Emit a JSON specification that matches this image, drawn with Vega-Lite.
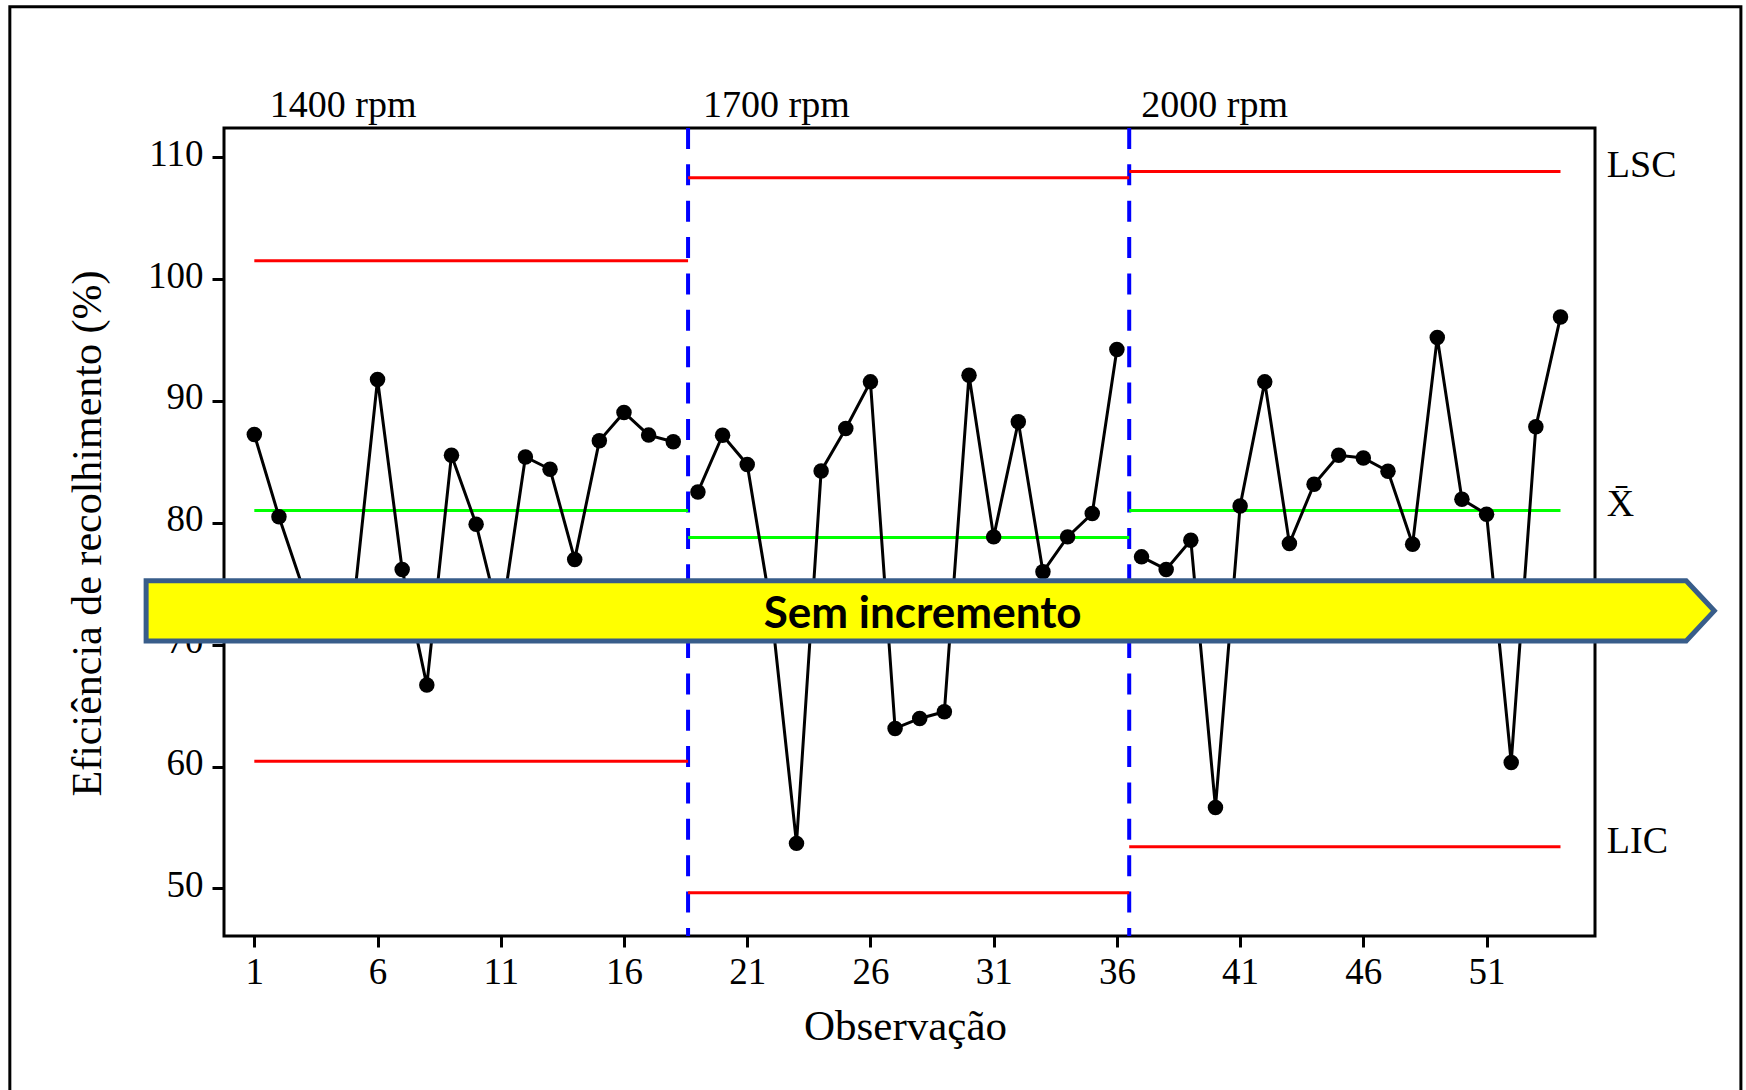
{
  "$schema": "https://vega.github.io/schema/vega-lite/v6.json",
  "width": 1371,
  "height": 808,
  "autosize": {"type": "none"},
  "padding": {"left": 224, "top": 128, "right": 151, "bottom": 154},
  "background": "white",
  "config": {
    "view": {"stroke": "black", "strokeWidth": 3},
    "font": "Liberation Serif",
    "axis": {
      "domain": false, "grid": false, "ticks": true,
      "tickColor": "black", "tickWidth": 3, "tickSize": 11,
      "labelFont": "Liberation Serif", "labelFontSize": 37, "labelColor": "black",
      "titleFont": "Liberation Serif", "titleFontSize": 42, "titleFontWeight": "normal", "titleColor": "black"
    },
    "axisX": {"labelBaseline": "alphabetic", "labelPadding": 36, "titleX": 681, "titleY": 103, "titleBaseline": "alphabetic", "titleAlign": "center", "titleFontSize": 43},
    "axisY": {"tickSize": 12, "labelPadding": 9, "labelBaseline": "alphabetic", "labelOffset": 8, "titleX": -124, "titleY": 405, "titleAngle": 270, "titleBaseline": "alphabetic", "titleAlign": "center"}
  },
  "datasets": {
    "obs": [
      {"obs": 1, "value": 87.25, "stage": "1400 rpm"},
      {"obs": 2, "value": 80.5, "stage": "1400 rpm"},
      {"obs": 3, "value": 74.5, "stage": "1400 rpm"},
      {"obs": 4, "value": 72.5, "stage": "1400 rpm"},
      {"obs": 5, "value": 72.7, "stage": "1400 rpm"},
      {"obs": 6, "value": 91.76, "stage": "1400 rpm"},
      {"obs": 7, "value": 76.18, "stage": "1400 rpm"},
      {"obs": 8, "value": 66.69, "stage": "1400 rpm"},
      {"obs": 9, "value": 85.55, "stage": "1400 rpm"},
      {"obs": 10, "value": 79.89, "stage": "1400 rpm"},
      {"obs": 11, "value": 71.7, "stage": "1400 rpm"},
      {"obs": 12, "value": 85.41, "stage": "1400 rpm"},
      {"obs": 13, "value": 84.4, "stage": "1400 rpm"},
      {"obs": 14, "value": 77.0, "stage": "1400 rpm"},
      {"obs": 15, "value": 86.73, "stage": "1400 rpm"},
      {"obs": 16, "value": 89.06, "stage": "1400 rpm"},
      {"obs": 17, "value": 87.2, "stage": "1400 rpm"},
      {"obs": 18, "value": 86.65, "stage": "1400 rpm"},
      {"obs": 19, "value": 82.54, "stage": "1700 rpm"},
      {"obs": 20, "value": 87.19, "stage": "1700 rpm"},
      {"obs": 21, "value": 84.79, "stage": "1700 rpm"},
      {"obs": 22, "value": 72.5, "stage": "1700 rpm"},
      {"obs": 23, "value": 53.7, "stage": "1700 rpm"},
      {"obs": 24, "value": 84.25, "stage": "1700 rpm"},
      {"obs": 25, "value": 87.74, "stage": "1700 rpm"},
      {"obs": 26, "value": 91.57, "stage": "1700 rpm"},
      {"obs": 27, "value": 63.13, "stage": "1700 rpm"},
      {"obs": 28, "value": 63.95, "stage": "1700 rpm"},
      {"obs": 29, "value": 64.5, "stage": "1700 rpm"},
      {"obs": 30, "value": 92.12, "stage": "1700 rpm"},
      {"obs": 31, "value": 78.85, "stage": "1700 rpm"},
      {"obs": 32, "value": 88.29, "stage": "1700 rpm"},
      {"obs": 33, "value": 75.98, "stage": "1700 rpm"},
      {"obs": 34, "value": 78.85, "stage": "1700 rpm"},
      {"obs": 35, "value": 80.77, "stage": "1700 rpm"},
      {"obs": 36, "value": 94.22, "stage": "1700 rpm"},
      {"obs": 37, "value": 77.21, "stage": "2000 rpm"},
      {"obs": 38, "value": 76.18, "stage": "2000 rpm"},
      {"obs": 39, "value": 78.58, "stage": "2000 rpm"},
      {"obs": 40, "value": 56.65, "stage": "2000 rpm"},
      {"obs": 41, "value": 81.39, "stage": "2000 rpm"},
      {"obs": 42, "value": 91.57, "stage": "2000 rpm"},
      {"obs": 43, "value": 78.31, "stage": "2000 rpm"},
      {"obs": 44, "value": 83.17, "stage": "2000 rpm"},
      {"obs": 45, "value": 85.55, "stage": "2000 rpm"},
      {"obs": 46, "value": 85.33, "stage": "2000 rpm"},
      {"obs": 47, "value": 84.24, "stage": "2000 rpm"},
      {"obs": 48, "value": 78.25, "stage": "2000 rpm"},
      {"obs": 49, "value": 95.21, "stage": "2000 rpm"},
      {"obs": 50, "value": 81.94, "stage": "2000 rpm"},
      {"obs": 51, "value": 80.71, "stage": "2000 rpm"},
      {"obs": 52, "value": 60.34, "stage": "2000 rpm"},
      {"obs": 53, "value": 87.88, "stage": "2000 rpm"},
      {"obs": 54, "value": 96.9, "stage": "2000 rpm"}
    ],
    "limits": [
      {"stage": "1400 rpm", "start": 1, "end": 18.6, "ucl": 101.5, "cl": 81.02, "lcl": 60.43, "labelx": 1.63},
      {"stage": "1700 rpm", "start": 18.6, "end": 36.5, "ucl": 108.31, "cl": 78.8, "lcl": 49.65, "labelx": 19.21},
      {"stage": "2000 rpm", "start": 36.5, "end": 54, "ucl": 108.84, "cl": 81.02, "lcl": 53.42, "labelx": 36.99}
    ],
    "boundaries": [{"b": 18.6}, {"b": 36.5}],
    "arrow": [
      {"ax": -3.39, "lo": 70.31, "hi": 75.25},
      {"ax": 59.1, "lo": 70.31, "hi": 75.25},
      {"ax": 60.24, "lo": 72.78, "hi": 72.78}
    ],
    "sidelabels": [
      {"label": "LSC", "v": 108.84},
      {"label": "X̄", "v": 81.02},
      {"label": "LIC", "v": 53.42}
    ]
  },
  "layer": [
    {
      "data": {"values": [{}]},
      "mark": {"type": "rect", "filled": false, "stroke": "black", "strokeWidth": 3, "clip": false},
      "encoding": {
        "x": {"datum": -8.92, "type": "quantitative"},
        "x2": {"datum": 61.32},
        "y": {"datum": 122.35, "type": "quantitative"},
        "y2": {"datum": 32.6}
      }
    },
    {
      "data": {"name": "boundaries"},
      "mark": {"type": "rule", "color": "#0000FF", "strokeWidth": 4, "strokeDash": [21, 15.36]},
      "encoding": {
        "x": {"field": "b", "type": "quantitative"},
        "y": {"datum": 112.4, "type": "quantitative"},
        "y2": {"datum": 46.1}
      }
    },
    {
      "data": {"name": "limits"},
      "mark": {"type": "rule", "color": "#FF0000", "strokeWidth": 3},
      "encoding": {
        "x": {"field": "start", "type": "quantitative"},
        "x2": {"field": "end"},
        "y": {"field": "ucl", "type": "quantitative"}
      }
    },
    {
      "data": {"name": "limits"},
      "mark": {"type": "rule", "color": "#FF0000", "strokeWidth": 3},
      "encoding": {
        "x": {"field": "start", "type": "quantitative"},
        "x2": {"field": "end"},
        "y": {"field": "lcl", "type": "quantitative"}
      }
    },
    {
      "data": {"name": "limits"},
      "mark": {"type": "rule", "color": "#00FF00", "strokeWidth": 3},
      "encoding": {
        "x": {"field": "start", "type": "quantitative"},
        "x2": {"field": "end"},
        "y": {"field": "cl", "type": "quantitative"}
      }
    },
    {
      "data": {"name": "obs"},
      "mark": {"type": "line", "color": "black", "strokeWidth": 3},
      "encoding": {
        "x": {"field": "obs", "type": "quantitative",
              "scale": {"domain": [-0.23, 55.4], "nice": false, "zero": false},
              "axis": {"values": [1, 6, 11, 16, 21, 26, 31, 36, 41, 46, 51]},
              "title": "Observação"},
        "y": {"field": "value", "type": "quantitative",
              "scale": {"domain": [46.1, 112.4], "nice": false, "zero": false},
              "axis": {"values": [50, 60, 70, 80, 90, 100, 110]},
              "title": "Eficiência de recolhimento (%)"},
        "detail": {"field": "stage", "type": "nominal"}
      }
    },
    {
      "data": {"name": "obs"},
      "mark": {"type": "point", "filled": true, "color": "black", "opacity": 1, "size": 240, "shape": "circle"},
      "encoding": {
        "x": {"field": "obs", "type": "quantitative"},
        "y": {"field": "value", "type": "quantitative"}
      }
    },
    {
      "data": {"name": "arrow"},
      "mark": {"type": "area", "color": "#FFFF00", "fillOpacity": 1, "stroke": "#385D8A", "strokeWidth": 5, "strokeJoin": "miter", "clip": false, "orient": "vertical"},
      "encoding": {
        "x": {"field": "ax", "type": "quantitative"},
        "y": {"field": "lo", "type": "quantitative"},
        "y2": {"field": "hi"}
      }
    },
    {
      "data": {"values": [{"t": "Sem incremento"}]},
      "mark": {"type": "text", "font": "Lato", "fontWeight": "bold", "fontSize": 44, "color": "black", "align": "center", "baseline": "alphabetic"},
      "encoding": {
        "x": {"datum": 28.12, "type": "quantitative"},
        "y": {"datum": 71.34, "type": "quantitative"},
        "text": {"field": "t"}
      }
    },
    {
      "data": {"name": "limits"},
      "mark": {"type": "text", "font": "Liberation Serif", "fontSize": 38, "color": "black", "align": "left", "baseline": "alphabetic"},
      "encoding": {
        "x": {"field": "labelx", "type": "quantitative"},
        "y": {"datum": 113.3, "type": "quantitative"},
        "text": {"field": "stage"}
      }
    },
    {
      "data": {"name": "sidelabels"},
      "mark": {"type": "text", "font": "Liberation Serif", "fontSize": 38, "color": "black", "align": "left", "baseline": "middle", "dy": -5},
      "encoding": {
        "x": {"datum": 55.88, "type": "quantitative"},
        "y": {"field": "v", "type": "quantitative"},
        "text": {"field": "label"}
      }
    }
  ]
}
